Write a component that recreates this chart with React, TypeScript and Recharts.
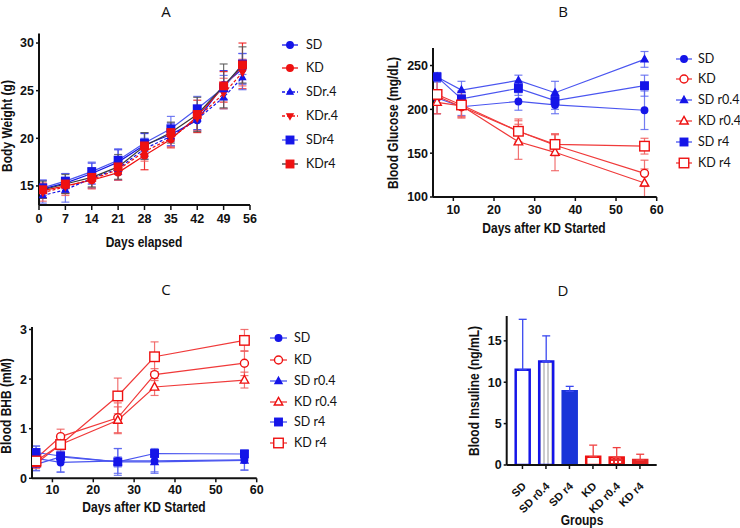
import React from "react";
import { LineChart, Line, XAxis, YAxis, ErrorBar, BarChart, Bar, Cell } from "recharts";

const BLUE = "#1515e8";
const RED = "#ee1111";
const GREY = "#3a3a3a";
const TICK_FONT = "'Liberation Sans', Arial, sans-serif";
const LEGEND_FONT = "Lato, 'Noto Sans', sans-serif";

// ---- Panel A: body weight ----
const weightDays = [1, 7, 14, 21, 28, 35, 42, 49, 54];
const wSD = [14.7, 15.3, 16.3, 17.5, 19.3, 20.4, 21.9, 25.6, 27.3];
const wSDErr = [0.9, 1.0, 1.1, 1.3, 1.2, 1.2, 1.0, 1.5, 1.6];
const wKD = [14.5, 15.0, 15.6, 16.4, 18.2, 19.9, 22.3, 25.4, 27.6];
const wKDErr = [0.8, 0.8, 0.9, 0.8, 1.5, 0.9, 1.7, 1.6, 2.4];
const wSDr04 = [14.0, 14.6, 15.8, 16.8, 18.9, 20.2, 22.0, 24.3, 26.4];
const wSDr04Err = [0.8, 1.3, 1.0, 1.2, 1.1, 1.0, 1.2, 1.2, 1.3];
const wKDr04 = [14.3, 14.9, 15.7, 16.7, 18.6, 20.0, 22.1, 24.7, 26.9];
const wKDr04Err = [0.9, 0.9, 0.9, 1.1, 1.0, 0.9, 1.3, 1.6, 1.4];
const wSDr4 = [14.8, 15.5, 16.5, 17.7, 19.5, 21.0, 23.1, 25.3, 27.8];
const wSDr4Err = [0.8, 0.8, 1.0, 1.2, 1.1, 1.3, 1.3, 1.3, 1.1];
const wKDr4 = [14.6, 15.2, 15.9, 17.0, 19.2, 20.6, 22.5, 25.5, 27.7];
const wKDr4Err = [0.9, 1.0, 1.0, 1.3, 1.4, 1.1, 1.8, 2.3, 1.9];
const weightXTicks = [0, 7, 14, 21, 28, 35, 42, 49, 56];
const weightYTicks = [15, 20, 25, 30];

// ---- Panel B: blood glucose ----
const glucoseDays = [6, 12, 26, 35, 57];
const gSD = [213, 203, 209, 205, 199];
const gSDErr = [18, 10, 10, 10, 22];
const gKD = [215, 203, 175, 159, 127];
const gKDErr = [20, 12, 12, 12, 15];
const gSDr04 = [237, 222, 233, 219, 257];
const gSDr04Err = [5, 10, 6, 13, 9];
const gKDr04 = [208, 204, 163, 151, 116];
const gKDr04Err = [13, 12, 20, 21, 16];
const gSDr4 = [237, 212, 224, 210, 227];
const gSDr4Err = [5, 9, 8, 10, 12];
const gKDr4 = [217, 205, 175, 160, 158];
const gKDr4Err = [5, 15, 14, 12, 9];
const glucoseXTicks = [10, 20, 30, 40, 50, 60];
const glucoseYTicks = [100, 150, 200, 250];

// ---- Panel C: blood BHB ----
const bhbDays = [6, 12, 26, 35, 57];
const bSD = [0.4, 0.32, 0.35, 0.35, 0.37];
const bSDErr = [0.25, 0.2, 0.25, 0.25, 0.2];
const bKD = [0.4, 0.84, 1.22, 2.09, 2.32];
const bKDErr = [0.12, 0.15, 0.3, 0.12, 0.25];
const bSDr04 = [0.28, 0.43, 0.33, 0.33, 0.36];
const bSDr04Err = [0.12, 0.3, 0.27, 0.2, 0.2];
const bKDr04 = [0.3, 0.68, 1.17, 1.84, 1.98];
const bKDr04Err = [0.1, 0.15, 0.27, 0.17, 0.16];
const bSDr4 = [0.52, 0.45, 0.33, 0.5, 0.49];
const bSDr4Err = [0.13, 0.1, 0.1, 0.06, 0.07];
const bKDr4 = [0.35, 0.68, 1.66, 2.45, 2.78];
const bKDr4Err = [0.1, 0.1, 0.36, 0.3, 0.22];
const bhbXTicks = [10, 20, 30, 40, 50, 60];
const bhbYTicks = [0, 1, 2, 3];

// ---- Panel D: blood insulin ----
const insulinGroups = ["SD", "SD r0.4", "SD r4", "KD", "KD r0.4", "KD r4"];
const insulinValues = [11.5, 12.5, 8.9, 1.0, 0.9, 0.6];
const insulinErr = [6.1, 3.1, 0.6, 1.4, 1.2, 0.7];
const insulinYTicks = [0, 5, 10, 15];

const seriesKeys = ["sd", "kd", "sdr04", "kdr04", "sdr4", "kdr4"];

function buildRows(days: number[], vals: number[][], errs: number[][]) {
  return days.map((d, i) => {
    const row: any = { day: d };
    seriesKeys.forEach((k, j) => {
      row[k] = vals[j][i];
      row[k + "Err"] = errs[j][i];
    });
    return row;
  });
}

const weightRows = buildRows(
  weightDays,
  [wSD, wKD, wSDr04, wKDr04, wSDr4, wKDr4],
  [wSDErr, wKDErr, wSDr04Err, wKDr04Err, wSDr4Err, wKDr4Err]
);
const glucoseRows = buildRows(
  glucoseDays,
  [gSD, gKD, gSDr04, gKDr04, gSDr4, gKDr4],
  [gSDErr, gKDErr, gSDr04Err, gKDr04Err, gSDr4Err, gKDr4Err]
);
const bhbRows = buildRows(
  bhbDays,
  [bSD, bKD, bSDr04, bKDr04, bSDr4, bKDr4],
  [bSDErr, bKDErr, bSDr04Err, bKDr04Err, bSDr4Err, bKDr4Err]
);
const insulinRows = insulinGroups.map((g, i) => ({
  group: g,
  value: insulinValues[i],
  blueErr: i < 3 ? [0, insulinErr[i]] : null,
  redErr: i >= 3 ? [0, insulinErr[i]] : null,
}));

type Shape = "circle" | "square" | "triangle" | "triangleDown";

function Glyph({ shape, x, y, s, color, filled, sw = 1.4 }: any) {
  const fill = filled ? color : "#fff";
  if (shape === "circle") return <circle cx={x} cy={y} r={s / 2} fill={fill} stroke={color} strokeWidth={sw} />;
  if (shape === "square")
    return <rect x={x - s / 2} y={y - s / 2} width={s} height={s} fill={fill} stroke={color} strokeWidth={sw} />;
  const h = s * 0.9;
  if (shape === "triangle")
    return (
      <polygon
        points={`${x},${y - h * 0.6} ${x + s / 2},${y + h * 0.4} ${x - s / 2},${y + h * 0.4}`}
        fill={fill}
        stroke={color}
        strokeWidth={sw}
      />
    );
  return (
    <polygon
      points={`${x},${y + h * 0.6} ${x + s / 2},${y - h * 0.4} ${x - s / 2},${y - h * 0.4}`}
      fill={fill}
      stroke={color}
      strokeWidth={sw}
    />
  );
}

interface SeriesStyle {
  key: string;
  name: string;
  line: string;
  marker: string;
  err: string;
  shape: Shape;
  filled: boolean;
  size: number;
  dash?: string;
}

const weightSeries: SeriesStyle[] = [
  { key: "sd", name: "SD", line: BLUE, marker: BLUE, err: BLUE, shape: "circle", filled: true, size: 6.5 },
  { key: "kd", name: "KD", line: RED, marker: RED, err: RED, shape: "circle", filled: true, size: 6.5 },
  { key: "sdr04", name: "SDr.4", line: BLUE, marker: BLUE, err: "#5a66f0", shape: "triangle", filled: true, size: 6, dash: "3 2" },
  { key: "kdr04", name: "KDr.4", line: RED, marker: RED, err: "#f06060", shape: "triangleDown", filled: true, size: 6, dash: "3 2" },
  { key: "sdr4", name: "SDr4", line: "#4a55f0", marker: BLUE, err: "#5a66f0", shape: "square", filled: true, size: 7.5 },
  { key: "kdr4", name: "KDr4", line: GREY, marker: RED, err: "#555", shape: "square", filled: true, size: 7.5 },
];

const dietSeries: SeriesStyle[] = [
  { key: "sd", name: "SD", line: "#4a55f0", marker: BLUE, err: "#5a66f0", shape: "circle", filled: true, size: 6.5 },
  { key: "kd", name: "KD", line: "#f03a3a", marker: RED, err: "#f05a5a", shape: "circle", filled: false, size: 8 },
  { key: "sdr04", name: "SD r0.4", line: "#4a55f0", marker: BLUE, err: "#5a66f0", shape: "triangle", filled: true, size: 7 },
  { key: "kdr04", name: "KD r0.4", line: "#f03a3a", marker: RED, err: "#f05a5a", shape: "triangle", filled: false, size: 8.5 },
  { key: "sdr4", name: "SD r4", line: "#4a55f0", marker: BLUE, err: "#5a66f0", shape: "square", filled: true, size: 7.5 },
  { key: "kdr4", name: "KD r4", line: "#f03a3a", marker: RED, err: "#f05a5a", shape: "square", filled: false, size: 9.5 },
];

function renderSeries(list: SeriesStyle[], errWidth: number) {
  return list.map((s) => (
    <Line
      key={s.key}
      dataKey={s.key}
      stroke={s.line}
      strokeWidth={1.2}
      strokeDasharray={s.dash}
      isAnimationActive={false}
      activeDot={false}
      dot={(p: any) => (
        <Glyph key={`${s.key}-${p.index}`} shape={s.shape} x={p.cx} y={p.cy} s={s.size} color={s.marker} filled={s.filled} />
      )}
    >
      <ErrorBar dataKey={s.key + "Err"} direction="y" width={errWidth} stroke={s.err} strokeWidth={1.2} strokeOpacity={0.85} />
    </Line>
  ));
}

function Legend({ items, lineX, lineLen, textX, rows }: { items: SeriesStyle[]; lineX: number; lineLen: number; textX: number; rows: number[] }) {
  return (
    <>
      {items.map((s, i) => (
        <div key={s.key} style={{ position: "absolute", left: lineX, top: rows[i] - 8, height: 16, display: "flex", alignItems: "center" }}>
          <svg width={lineLen + 2} height={16} style={{ display: "block" }}>
            <line x1={1} y1={8} x2={lineLen + 1} y2={8} stroke={s.line} strokeWidth={1.3} strokeDasharray={s.dash} />
            <Glyph shape={s.shape} x={lineLen / 2 + 1} y={8} s={s.size} color={s.marker} filled={s.filled} />
          </svg>
          <span
            style={{
              position: "absolute",
              left: textX - lineX,
              fontFamily: LEGEND_FONT,
              fontSize: 12.5,
              color: "#111",
              whiteSpace: "nowrap",
              lineHeight: "16px",
            }}
          >
            {s.name}
          </span>
        </div>
      ))}
    </>
  );
}

function Label({ text, x, y, rotate, size = 12, bold = true, font = TICK_FONT }: any) {
  return (
    <div
      style={{
        position: "absolute",
        left: x,
        top: y,
        transform: `translate(-50%, -50%)${rotate ? " rotate(-90deg)" : ""}${bold ? " scale(1, 1.15)" : ""}`,
        fontFamily: font,
        fontWeight: bold ? 700 : 400,
        fontSize: size,
        color: "#111",
        whiteSpace: "nowrap",
        lineHeight: 1.2,
      }}
    >
      {text}
    </div>
  );
}

const tickStyle = { fontSize: 12.5, fontWeight: 700, fill: "#111", fontFamily: TICK_FONT };
const axisLine = { stroke: "#111", strokeWidth: 2 };
const tickLine = { stroke: "#111", strokeWidth: 1.5 };

function InsulinTick(props: any) {
  const { x, y, payload } = props;
  const ax = x + 1.5;
  const ay = y + 13;
  return (
    <text
      x={ax}
      y={ay}
      textAnchor="end"
      transform={`rotate(-45, ${ax}, ${ay})`}
      fontSize={11}
      fontWeight={700}
      fill="#111"
      fontFamily={TICK_FONT}
      dominantBaseline="central"
    >
      {payload.value}
    </text>
  );
}

const insulinStyles = [
  { fill: "#fff", stroke: BLUE },
  { fill: "url(#vstripes)", stroke: BLUE },
  { fill: "#1a35d8", stroke: "#1a35d8" },
  { fill: "#fff", stroke: RED },
  { fill: "url(#reddots)", stroke: RED },
  { fill: "#e52424", stroke: "#e52424" },
];

export default function App() {
  return (
    <div style={{ position: "absolute", left: 0, top: 0, width: 740, height: 528, background: "#fff", overflow: "hidden" }}>
      {/* A */}
      <div style={{ position: "absolute", left: 0, top: 0 }}>
        <LineChart width={260} height={260} data={weightRows} margin={{ top: 33.5, right: 10, bottom: 0, left: 0 }}>
          <XAxis
            dataKey="day"
            type="number"
            domain={[0, 56]}
            ticks={weightXTicks}
            allowDataOverflow
            height={55}
            tick={tickStyle}
            axisLine={axisLine}
            tickLine={tickLine}
            tickSize={5}
            tickMargin={4}
          />
          <YAxis
            type="number"
            domain={[13, 31]}
            ticks={weightYTicks}
            allowDataOverflow
            width={39}
            tick={tickStyle}
            axisLine={axisLine}
            tickLine={tickLine}
            tickSize={3}
            tickMargin={2}
          />
          {renderSeries(weightSeries, 4)}
        </LineChart>
      </div>
      <Legend items={weightSeries} lineX={281} lineLen={16} textX={306} rows={[45, 68, 92, 116, 140, 164]} />
      <Label text="A" x={166} y={11} bold={false} size={15} font="'Open Sans', sans-serif" />
      <Label text="Body Weight (g)" x={8} y={126} rotate />
      <Label text="Days elapsed" x={144} y={243} />

      {/* B */}
      <div style={{ position: "absolute", left: 370, top: 0 }}>
        <LineChart width={300} height={260} data={glucoseRows} margin={{ top: 48, right: 13.3, bottom: 0, left: 0 }}>
          <XAxis
            dataKey="day"
            type="number"
            domain={[5, 60]}
            ticks={glucoseXTicks}
            allowDataOverflow
            height={63}
            tick={tickStyle}
            axisLine={axisLine}
            tickLine={tickLine}
            tickSize={4}
            tickMargin={4}
          />
          <YAxis
            type="number"
            domain={[100, 270]}
            ticks={glucoseYTicks}
            allowDataOverflow
            width={63}
            tick={tickStyle}
            axisLine={axisLine}
            tickLine={tickLine}
            tickSize={3}
            tickMargin={2}
          />
          {renderSeries(dietSeries, 4)}
        </LineChart>
      </div>
      <Legend items={dietSeries} lineX={675} lineLen={16} textX={698} rows={[59, 79, 100, 121, 142, 163]} />
      <Label text="B" x={563} y={11} bold={false} size={15} font="'Open Sans', sans-serif" />
      <Label text="Blood Glucose (mg/dL)" x={394} y={123} rotate />
      <Label text="Days after KD Started" x={544} y={229} />

      {/* C */}
      <div style={{ position: "absolute", left: 0, top: 264 }}>
        <LineChart width={270} height={264} data={bhbRows} margin={{ top: 63, right: 13.3, bottom: 0, left: 0 }}>
          <XAxis
            dataKey="day"
            type="number"
            domain={[5, 60]}
            ticks={bhbXTicks}
            allowDataOverflow
            height={49.7}
            tick={tickStyle}
            axisLine={axisLine}
            tickLine={tickLine}
            tickSize={4}
            tickMargin={3}
          />
          <YAxis
            type="number"
            domain={[0, 3.05]}
            ticks={bhbYTicks}
            allowDataOverflow
            width={32}
            tick={tickStyle}
            axisLine={axisLine}
            tickLine={tickLine}
            tickSize={3}
            tickMargin={2}
          />
          {renderSeries(dietSeries, 4)}
        </LineChart>
      </div>
      <Legend items={dietSeries} lineX={269} lineLen={17} textX={294} rows={[338, 360, 381, 402, 422, 443]} />
      <Label text="C" x={166} y={289} bold={false} size={15} font="'Open Sans', sans-serif" />
      <Label text="Blood BHB (mM)" x={7} y={406} rotate />
      <Label text="Days after KD Started" x={144} y={508} />

      {/* D */}
      <div style={{ position: "absolute", left: 370, top: 264 }}>
        <BarChart width={300} height={264} data={insulinRows} margin={{ top: 52, right: 13.3, bottom: 0, left: 0 }} barSize={14}>
          <defs>
            <pattern id="vstripes" width="4" height="4" patternUnits="userSpaceOnUse">
              <rect width="4" height="4" fill="#fff" />
              <line x1="2" y1="0" x2="2" y2="4" stroke="#9a9a9a" strokeWidth="1" />
            </pattern>
            <pattern id="reddots" width="4" height="4" patternUnits="userSpaceOnUse">
              <rect width="4" height="4" fill="#e83030" />
              <rect x="1" y="1" width="2" height="2" fill="#fff" />
            </pattern>
          </defs>
          <XAxis
            dataKey="group"
            type="category"
            height={63}
            padding={{ left: 4, right: 5 }}
            tick={<InsulinTick />}
            interval={0}
            axisLine={axisLine}
            tickLine={tickLine}
            tickSize={4}
          />
          <YAxis
            type="number"
            domain={[0, 18]}
            ticks={insulinYTicks}
            allowDataOverflow
            width={136.7}
            tick={tickStyle}
            axisLine={axisLine}
            tickLine={tickLine}
            tickSize={3}
            tickMargin={2}
          />
          <Bar dataKey="value" isAnimationActive={false} strokeWidth={2.5}>
            {insulinRows.map((r, i) => (
              <Cell key={r.group} fill={insulinStyles[i].fill} stroke={insulinStyles[i].stroke} />
            ))}
            <ErrorBar dataKey="blueErr" direction="y" width={4} stroke="#3a48f0" strokeWidth={1.3} />
            <ErrorBar dataKey="redErr" direction="y" width={4} stroke="#f04040" strokeWidth={1.3} />
          </Bar>
        </BarChart>
      </div>
      <Label text="D" x={563} y={290} bold={false} size={15} font="'Open Sans', sans-serif" />
      <Label text="Blood Insuline (ng/mL)" x={475} y={391} rotate />
      <Label text="Groups" x={582} y={521} />
    </div>
  );
}
